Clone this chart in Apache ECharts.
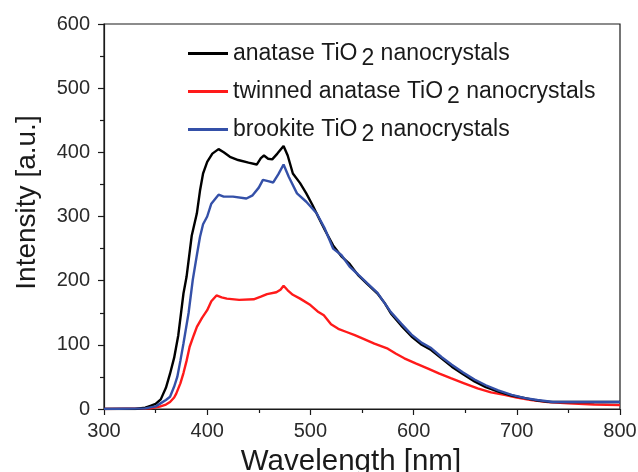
<!DOCTYPE html>
<html>
<head>
<meta charset="utf-8">
<script src="https://cdn.jsdelivr.net/npm/echarts@6/dist/echarts.min.js"></script>
<style>
  html, body { margin: 0; padding: 0; background: #fff; }
  #main { width: 638px; height: 472px; }
</style>
</head>
<body>
<div id="main"></div>
<script>
// wavelength (nm) / intensity (a.u.)
var anataseX = [300, 330, 340, 345, 350, 355, 360, 364, 368, 372, 377, 380, 385, 390, 393, 396, 400, 405, 411, 416, 422, 430, 440, 448, 452, 455, 459, 463, 468, 474, 478, 483, 490, 496, 502, 509, 514, 522, 530, 538, 546, 555, 565, 572, 578, 588, 598, 607, 617, 627, 637, 648, 659, 670, 682, 695, 708, 720, 733, 760, 800];
var anataseY = [0, 0, 2, 5, 8, 15, 33, 55, 80, 115, 180, 206, 270, 305, 340, 367, 385, 398, 405, 400, 393, 388, 384, 381, 391, 395, 390, 389, 398, 410, 395, 367, 352, 336, 318, 295, 279, 255, 238, 226, 209, 195, 180, 165, 149, 130, 113, 101, 92, 79, 66, 54, 43, 34, 27, 21, 17, 13, 11, 11, 11];

var twinnedX = [300, 345, 354, 360, 364, 368, 370, 374, 377, 380, 383, 387, 390, 395, 400, 404, 409, 414, 419, 431, 445, 452, 458, 467, 471, 474, 478, 483, 490, 500, 507, 513, 520, 527, 535, 543, 552, 562, 575, 583, 591, 602, 614, 625, 636, 649, 662, 675, 688, 700, 714, 730, 750, 775, 800];
var twinnedY = [0, 1, 3.6, 7, 11, 18, 24, 40, 56, 75, 97, 115, 128, 142, 154, 168, 177, 174, 172, 170, 171, 175, 179, 182, 186, 192, 185, 178, 172, 162, 152, 146, 132, 125, 120, 115, 109, 102, 94, 86, 79, 71, 63, 55, 48, 40, 32, 26, 22, 18, 14, 11, 9, 7, 6];

var brookiteX = [300, 340, 350, 354, 360, 364, 368, 371, 374, 377, 382, 386, 390, 393, 396, 400, 404, 411, 416, 425, 438, 444, 450, 454, 459, 464, 469, 474, 479, 487, 496, 506, 514, 522, 530, 538, 546, 555, 565, 578, 588, 598, 608, 617, 627, 637, 648, 659, 670, 682, 695, 708, 720, 735, 760, 800];
var brookiteY = [0, 1, 4, 8, 14, 19, 35, 50, 75, 102, 150, 201, 240, 268, 288, 300, 320, 334, 331, 331, 328, 333, 345, 357, 355, 353, 366, 381, 362, 336, 323, 305, 281, 250, 240, 222, 210, 196, 181, 151, 133, 116, 103, 95, 81, 69, 57, 46, 37, 29, 22, 17, 14, 11, 11, 11];

var seriesNames = ['anatase', 'twinned anatase', 'brookite'];
var seriesColors = ['#000000', '#ff1a1a', '#3450a8'];

function pairs(xs, ys) {
    var out = [];
    for (var i = 0; i < xs.length; i++) {
        out.push([xs[i], ys[i]]);
    }
    return out;
}

var chart = echarts.init(document.getElementById('main'));

var axisCommon = {
    axisLine: { show: true, onZero: false, lineStyle: { color: '#1a1a1a', width: 1.2 } },
    axisTick: { show: true, inside: false, length: 6, lineStyle: { color: '#1a1a1a', width: 1.2 } },
    minorTick: { show: true, splitNumber: 2, length: 4, lineStyle: { color: '#1a1a1a', width: 1.2 } },
    splitLine: { show: false },
    axisLabel: { color: '#2a2a2a', fontSize: 20, fontFamily: 'Liberation Sans, Arial' }
};

var option = {
    animation: false,
    backgroundColor: '#fff',
    grid: { left: 104, right: 18, top: 24, bottom: 63, outerBoundsMode: 'none', show: true, borderColor: '#1a1a1a', borderWidth: 1.2 },
    legend: {
        orient: 'vertical',
        left: 183,
        top: 37,
        itemWidth: 40,
        itemHeight: 3,
        itemGap: 10,
        icon: 'rect',
        data: seriesNames,
        formatter: function (name) {
            return '{t|' + name + ' TiO}{s|2}{t| nanocrystals}';
        },
        textStyle: {
            color: '#1a1a1a',
            fontFamily: 'Liberation Sans, Arial',
            fontSize: 23,
            rich: {
                t: { fontSize: 23, fontFamily: 'Liberation Sans, Arial', color: '#1a1a1a' },
                s: { fontSize: 23, fontFamily: 'Liberation Sans, Arial', color: '#1a1a1a', padding: [10, 0, 0, 4] }
            }
        }
    },
    xAxis: echarts.util.merge({
        type: 'value',
        min: 300,
        max: 800,
        interval: 100,
        name: 'Wavelength [nm]',
        nameLocation: 'middle',
        nameGap: 38,
        nameMoveOverlap: false,
        axisLabel: { margin: 12 },
        nameTextStyle: { fontSize: 29.5, color: '#1a1a1a', fontFamily: 'Liberation Sans, Arial', padding: [0, 22, 0, 0] }
    }, axisCommon, false),
    yAxis: echarts.util.merge({
        type: 'value',
        min: 0,
        max: 600,
        interval: 100,
        name: 'Intensity [a.u.]',
        nameLocation: 'middle',
        nameGap: 63,
        nameMoveOverlap: false,
        axisLabel: { margin: 14 },
        nameTextStyle: { fontSize: 28, color: '#1a1a1a', fontFamily: 'Liberation Sans, Arial', padding: [0, 0, 0, 28] }
    }, axisCommon, false),
    series: [
        { name: seriesNames[0], type: 'line', data: pairs(anataseX, anataseY), showSymbol: false, lineStyle: { width: 2.4, color: seriesColors[0] }, itemStyle: { color: seriesColors[0] }, z: 3 },
        { name: seriesNames[1], type: 'line', data: pairs(twinnedX, twinnedY), showSymbol: false, lineStyle: { width: 2.4, color: seriesColors[1] }, itemStyle: { color: seriesColors[1] }, z: 2 },
        { name: seriesNames[2], type: 'line', data: pairs(brookiteX, brookiteY), showSymbol: false, lineStyle: { width: 2.4, color: seriesColors[2] }, itemStyle: { color: seriesColors[2] }, z: 4 }
    ]
};

chart.setOption(option);
</script>
</body>
</html>
